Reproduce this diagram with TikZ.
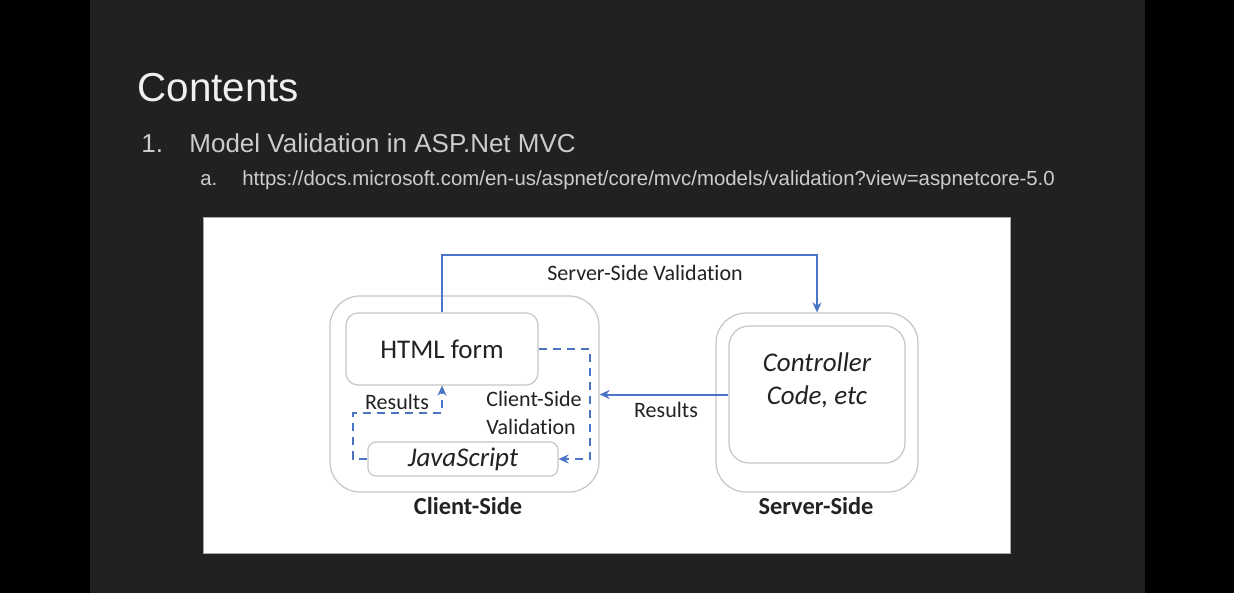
\documentclass[tikz,border=0pt]{standalone}
\usepackage{fontspec}
\setmainfont{Carlito}[Ligatures=NoCommon]
\newfontfamily\slidefont{Liberation Sans}
\usetikzlibrary{arrows.meta}
\definecolor{slidebg}{HTML}{212121}
\definecolor{flowblue}{HTML}{4A74C4}
\definecolor{boxline}{HTML}{C6C6C6}
\definecolor{inkgray}{HTML}{222222}

\begin{document}
\begin{tikzpicture}[x=0.5pt, y=-0.5pt,
	outerbox/.style={draw=boxline, line width=0.6pt, rounded corners=15pt, inner sep=0pt},
	innerbox/.style={draw=boxline, line width=0.6pt, inner sep=0pt, text=inkgray, font=\fontsize{13.5}{16}\selectfont},
	flow/.style={draw=flowblue, line width=1pt, -{Stealth[length=5pt,width=4.5pt]}},
	dashflow/.style={flow, dash pattern=on 4pt off 3pt},
	small/.style={text=inkgray, inner sep=0pt, font=\fontsize{11}{14}\selectfont},
	sidelabel/.style={text=inkgray, inner sep=0pt, font=\bfseries\fontsize{12.2}{14}\selectfont},
	slidetext/.style={anchor=base west, inner sep=0pt}]
			%%%%% START %%%%%
			
			\useasboundingbox (0, 0) rectangle (1234, 593);
			\fill[black] (0, 0) rectangle (1234, 593);
			\fill[slidebg] (90, 0) rectangle (1145, 593);
			
			% slide text
			\node[slidetext, text=white!94!black, font=\slidefont\fontsize{20.2}{24}\selectfont] (title) at (137, 102) {Contents};
			\node[slidetext, text=white!80!black, font=\slidefont\fontsize{13}{16}\selectfont] (itemnum) at (141, 153) {1.};
			\node[slidetext, text=white!80!black, font=\slidefont\fontsize{13}{16}\selectfont] (item) at (189, 153) {Model Validation in ASP.Net MVC};
			\node[slidetext, text=white!80!black, font=\slidefont\fontsize{10.2}{12}\selectfont] (subnum) at (200, 185) {a.};
			\node[slidetext, text=white!80!black, font=\slidefont\fontsize{10.2}{12}\selectfont] (url) at (242, 185) {https://docs.microsoft.com/en-us/aspnet/core/mvc/models/validation?view=aspnetcore-5.0};
			
			% diagram sheet
			\draw[fill=white, draw=black!35, line width=0.5pt] (203, 217) rectangle (1010, 553);
			
			% client side
			\node[outerbox, minimum width=134.5pt, minimum height=98pt] (client) at (464.5, 394) {};
			\node[innerbox, rounded corners=6pt, minimum width=96pt, minimum height=36pt] (htmlform) at (442, 349) {HTML form};
			\node[innerbox, rounded corners=4pt, minimum width=95pt, minimum height=17pt] (javascript) at (463, 459) {\itshape JavaScript};
			\node[sidelabel] (clientlabel) at (468, 506) {Client-Side};
			
			% server side
			\node[outerbox, minimum width=101pt, minimum height=89.5pt] (server) at (817, 402.5) {};
			\node[innerbox, rounded corners=10pt, minimum width=88pt, minimum height=68.5pt] (controller) at (817, 394.5) {};
			\node[innerbox, draw=none, align=center, font=\itshape\fontsize{13.5}{16.5}\selectfont] (controllertext) at (817, 380) {Controller\\Code, etc};
			\node[sidelabel] (serverlabel) at (816, 506) {Server-Side};
			
			% server-side validation
			\coordinate (topleft) at (442, 255);
			\draw[flow] (htmlform.north) -- (topleft) -| (server.north);
			\node[small] (servervalidation) at (645, 273) {Server-Side Validation};
			
			% results back from the server
			\draw[flow] (controller.west) -- (client.east |- controller.west);
			\node[small] (resultsright) at (666, 410) {Results};
			
			% client-side validation
			\coordinate (clientright) at (590, 349);
			\draw[dashflow] (htmlform.east) -- (clientright) |- (javascript.east);
			\node[small, align=left, anchor=west] (clientvalidation) at (486, 413) {Client-Side\\Validation};
			
			% results back to the form
			\coordinate (resultsleft) at (353, 413);
			\draw[dashflow] (javascript.west) -| (resultsleft) -| (htmlform.south);
			\node[small] (resultsinner) at (397, 402) {Results};
			
			%%%%% END %%%%%
		\end{tikzpicture}
\end{document}
